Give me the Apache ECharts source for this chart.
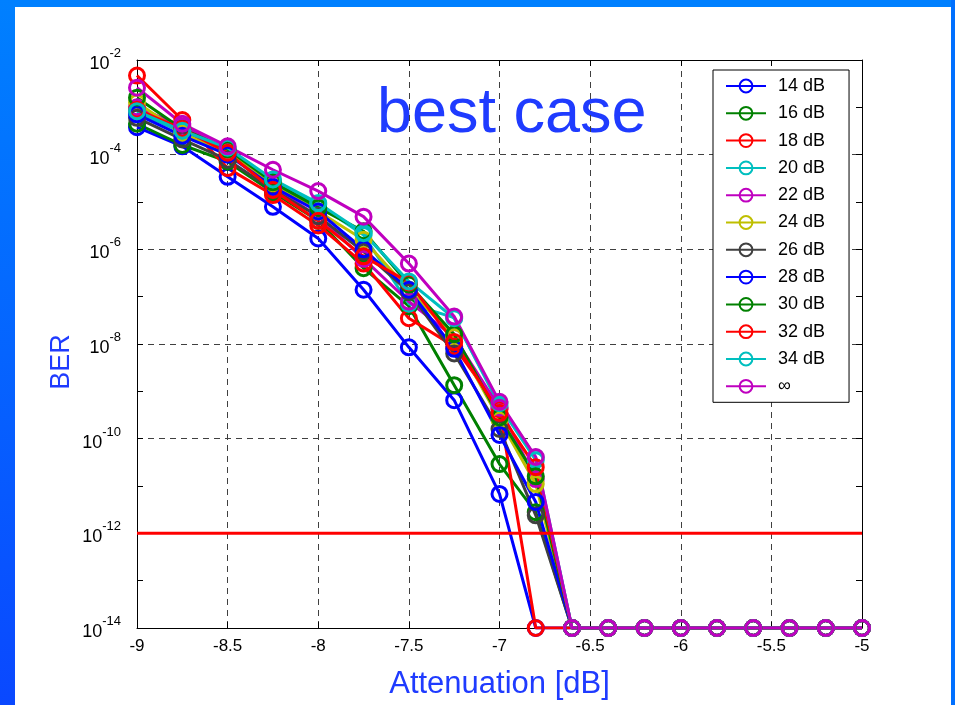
<!DOCTYPE html>
<html>
<head>
<meta charset="utf-8">
<script src="https://cdn.jsdelivr.net/npm/echarts@6/dist/echarts.min.js"></script>
<style>
  html, body { margin: 0; padding: 0; background: #ffffff; }
  #chart { width: 955px; height: 705px; }
</style>
</head>
<body>
<div id="chart"></div>
<script>
// ---- data ----
const attenuation = [-9, -8.75, -8.5, -8.25, -8, -7.75, -7.5, -7.25, -7, -6.8, -6.6, -6.4, -6.2, -6, -5.8, -5.6, -5.4, -5.2, -5];
const seriesNames = ['14 dB', '16 dB', '18 dB', '20 dB', '22 dB', '24 dB', '26 dB', '28 dB', '30 dB', '32 dB', '34 dB', '\u221e'];
const seriesColors = ['#0000ff', '#008000', '#ff0000', '#00bfbf', '#bf00bf', '#bfbf00', '#404040', '#0000ff', '#008000', '#ff0000', '#00bfbf', '#bf00bf'];
const ber14  = [3.8e-4, 1.5e-4, 3.4e-5, 7.9e-6, 1.7e-6, 1.4e-7, 8.5e-9, 6.5e-10, 6.8e-12, 1e-14, 1e-14, 1e-14, 1e-14, 1e-14, 1e-14, 1e-14, 1e-14, 1e-14, 1e-14];
const ber16  = [4.5e-4, 1.6e-4, 7.1e-5, 1.6e-5, 4.0e-6, 4.0e-7, 6.3e-8, 1.35e-9, 2.9e-11, 2.8e-12, 1e-14, 1e-14, 1e-14, 1e-14, 1e-14, 1e-14, 1e-14, 1e-14, 1e-14];
const ber18  = [4.7e-3, 5.4e-4, 5.2e-5, 1.4e-5, 3.2e-6, 5.0e-7, 3.5e-8, 8.9e-9, 4.2e-10, 1e-14, 1e-14, 1e-14, 1e-14, 1e-14, 1e-14, 1e-14, 1e-14, 1e-14, 1e-14];
const ber20  = [7.9e-4, 3.0e-4, 1.26e-4, 2.8e-5, 8.9e-6, 2.0e-6, 7.1e-8, 3.6e-8, 5.0e-10, 3.5e-11, 1e-14, 1e-14, 1e-14, 1e-14, 1e-14, 1e-14, 1e-14, 1e-14, 1e-14];
const ber22  = [1.0e-3, 4.0e-4, 1.26e-4, 2.0e-5, 5.0e-6, 6.3e-7, 7.9e-8, 1.4e-8, 4.5e-10, 1.4e-11, 1e-14, 1e-14, 1e-14, 1e-14, 1e-14, 1e-14, 1e-14, 1e-14, 1e-14];
const ber24  = [1.26e-3, 2.8e-4, 1.1e-4, 2.5e-5, 6.3e-6, 1.6e-6, 1.4e-7, 1.4e-8, 2.5e-10, 1.1e-11, 1e-14, 1e-14, 1e-14, 1e-14, 1e-14, 1e-14, 1e-14, 1e-14, 1e-14];
const ber26  = [6.0e-4, 2.1e-4, 7.8e-5, 1.8e-5, 5.0e-6, 8.9e-7, 1.26e-7, 6.3e-9, 1.6e-10, 2.4e-12, 1e-14, 1e-14, 1e-14, 1e-14, 1e-14, 1e-14, 1e-14, 1e-14, 1e-14];
const ber28  = [7.1e-4, 2.5e-4, 1.0e-4, 2.1e-5, 6.3e-6, 1.0e-6, 1.4e-7, 7.9e-9, 1.2e-10, 4.6e-12, 1e-14, 1e-14, 1e-14, 1e-14, 1e-14, 1e-14, 1e-14, 1e-14, 1e-14];
const ber30  = [1.6e-3, 3.5e-4, 1.3e-4, 2.6e-5, 7.6e-6, 2.4e-6, 1.8e-7, 1.6e-8, 2.8e-10, 1.6e-11, 1e-14, 1e-14, 1e-14, 1e-14, 1e-14, 1e-14, 1e-14, 1e-14, 1e-14];
const ber32  = [8.9e-4, 3.5e-4, 1.1e-4, 1.8e-5, 4.0e-6, 7.1e-7, 2.0e-7, 1.1e-8, 3.5e-10, 2.5e-11, 1e-14, 1e-14, 1e-14, 1e-14, 1e-14, 1e-14, 1e-14, 1e-14, 1e-14];
const ber34  = [8.3e-4, 3.2e-4, 1.4e-4, 3.0e-5, 9.5e-6, 2.2e-6, 2.1e-7, 3.5e-8, 5.6e-10, 4.0e-11, 1e-14, 1e-14, 1e-14, 1e-14, 1e-14, 1e-14, 1e-14, 1e-14, 1e-14];
const berInf = [2.6e-3, 4.5e-4, 1.5e-4, 4.8e-5, 1.7e-5, 4.9e-6, 5.0e-7, 3.8e-8, 6.0e-10, 4.1e-11, 1e-14, 1e-14, 1e-14, 1e-14, 1e-14, 1e-14, 1e-14, 1e-14, 1e-14];
const berSeries = [ber14, ber16, ber18, ber20, ber22, ber24, ber26, ber28, ber30, ber32, ber34, berInf];
const berLimit = 1e-12;
const limitRange = [-9, -5];
const xTickLabels = ['-9', '-8.5', '-8', '-7.5', '-7', '-6.5', '-6', '-5.5', '-5'];

const FONT = 'Liberation Sans, Arial, Helvetica, sans-serif';
const chart = echarts.init(document.getElementById('chart'), null, { renderer: 'canvas' });

const gridDash = { type: [6, 5], color: '#404040', width: 1 };

function supLabel(v) {
  const e = Math.round(Math.log10(v));
  return '{b|10}{s|' + e + '}';
}
const richY = {
  b: { fontSize: 18, fontFamily: FONT, color: '#000', verticalAlign: 'bottom', lineHeight: 26 },
  s: { fontSize: 13, fontFamily: FONT, color: '#000', verticalAlign: 'top', lineHeight: 26, padding: [0, 0, 16, 0] }
};

const series = berSeries.map((arr, i) => ({
  name: seriesNames[i],
  type: 'line',
  data: attenuation.map((x, j) => [x, arr[j]]),
  symbol: 'circle',
  symbolSize: 15,
  showAllSymbol: true,
  color: seriesColors[i],
  lineStyle: { color: seriesColors[i], width: 3 },
  itemStyle: { color: 'rgba(255,255,255,0)', borderColor: seriesColors[i], borderWidth: 3 },
  emphasis: { disabled: true },
  animation: false
}));
series.push({
  name: 'limit',
  type: 'line',
  data: limitRange.map(x => [x, berLimit]),
  symbol: 'none',
  silent: true,
  animation: false,
  lineStyle: { color: '#ff0000', width: 3 },
  itemStyle: { color: '#ff0000' },
  z: 3
});

const option = {
  backgroundColor: '#ffffff',
  animation: false,
  textStyle: { fontFamily: FONT },
  graphic: [
    { type: 'rect', z: -10, shape: { x: 0, y: 0, width: 955, height: 7 }, style: { fill: '#0080ff' } },
    { type: 'rect', z: -10, shape: { x: 0, y: 0, width: 15, height: 705 },
      style: { fill: new echarts.graphic.LinearGradient(0, 0, 0, 1, [{ offset: 0, color: '#0080ff' }, { offset: 1, color: '#0a48ff' }]) } },
    { type: 'rect', z: -10, shape: { x: 951, y: 0, width: 4, height: 705 }, style: { fill: '#0070ff' } },
    { type: 'text', left: 377, top: 83, style: { text: 'best case', font: '63px ' + FONT, fill: '#1f3bff' } },
    { type: 'text', x: 62, y: 362, rotation: Math.PI / 2, style: { text: 'BER', font: '27px ' + FONT, fill: '#1f3bff', textAlign: 'center', textVerticalAlign: 'middle' } }
  ],
  grid: { left: 137, top: 60, right: 93, bottom: 76, containLabel: false },
  legend: {
    orient: 'vertical',
    left: 713,
    top: 70,
    data: seriesNames,
    backgroundColor: '#ffffff',
    borderColor: '#000000',
    borderWidth: 1,
    padding: [7, 24, 7, 12],
    itemWidth: 40,
    itemHeight: 16,
    itemGap: 9.3,
    itemTextGap: 5,
    selectedMode: false,
    textStyle: { fontSize: 18, fontFamily: FONT, color: '#000', padding: [0, 0, 0, 7] }
  },
  xAxis: [
    {
      type: 'value', position: 'bottom', min: -9, max: -5, interval: 0.5,
      name: 'Attenuation [dB]', nameLocation: 'middle', nameGap: 41,
      nameTextStyle: { fontSize: 31, fontFamily: FONT, color: '#1f3bff' },
      axisLine: { lineStyle: { color: '#000', width: 1 } },
      axisTick: { inside: true, length: 6, lineStyle: { color: '#000' } },
      axisLabel: { fontSize: 17, fontFamily: FONT, color: '#000', margin: 10,
        formatter: v => xTickLabels[Math.round((v + 9) / 0.5)] },
      splitLine: { show: true, lineStyle: gridDash }
    },
    {
      type: 'value', position: 'top', min: -9, max: -5, interval: 0.5,
      axisLine: { lineStyle: { color: '#000', width: 1 } },
      axisTick: { inside: true, length: 6, lineStyle: { color: '#000' } },
      axisLabel: { show: false }, splitLine: { show: false }
    }
  ],
  yAxis: [
    {
      type: 'log', logBase: 10, min: 1e-14, max: 1e-2, interval: 2, position: 'left',
      axisLine: { lineStyle: { color: '#000', width: 1 } },
      axisTick: { inside: true, length: 6, lineStyle: { color: '#000' } },
      axisLabel: { formatter: supLabel, rich: richY, margin: 16 },
      splitLine: { show: true, lineStyle: gridDash }
    },
    {
      type: 'log', logBase: 10, min: 1e-14, max: 1e-2, interval: 1, position: 'left',
      axisLine: { show: false },
      axisTick: { inside: true, length: 6, lineStyle: { color: '#000' } },
      axisLabel: { show: false }, splitLine: { show: false }
    },
    {
      type: 'log', logBase: 10, min: 1e-14, max: 1e-2, interval: 1, position: 'right',
      axisLine: { show: true, lineStyle: { color: '#000', width: 1 } },
      axisTick: { inside: true, length: 6, lineStyle: { color: '#000' } },
      axisLabel: { show: false }, splitLine: { show: false }
    }
  ],
  series: series
};
chart.setOption(option);
</script>
</body>
</html>
